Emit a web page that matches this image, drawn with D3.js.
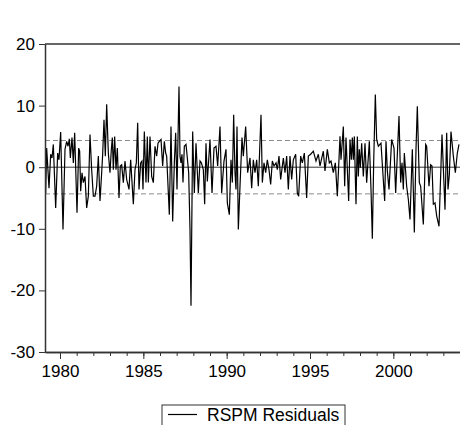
<!DOCTYPE html>
<html>
<head>
<meta charset="utf-8">
<script src="https://cdn.jsdelivr.net/npm/d3@7"></script>
<style>
  body { margin: 0; background: #fff; }
  svg { display: block; font-family: Arial, "Liberation Sans", sans-serif; }
</style>
</head>
<body>
<svg id="chart" width="460" height="425"></svg>
<script>
(function() {

  'use strict';

  var obsDates = [
    1979.10, 1979.14, 1979.20, 1979.34, 1979.44, 1979.52, 1979.60, 1979.74, 1979.86, 1979.94,
    1980.04, 1980.18, 1980.30, 1980.40, 1980.48, 1980.56, 1980.62, 1980.72, 1980.80, 1980.88,
    1981.02, 1981.12, 1981.18, 1981.24, 1981.32, 1981.40, 1981.50, 1981.60, 1981.70, 1981.80,
    1981.90, 1982.00, 1982.10, 1982.20, 1982.30, 1982.40, 1982.50, 1982.56, 1982.64, 1982.72,
    1982.80, 1982.90, 1983.00, 1983.08, 1983.14, 1983.20, 1983.28, 1983.36, 1983.44, 1983.54,
    1983.62, 1983.70, 1983.80, 1983.90, 1984.00, 1984.14, 1984.24, 1984.40, 1984.50, 1984.58,
    1984.66, 1984.74, 1984.84, 1984.92, 1984.98, 1985.06, 1985.16, 1985.24, 1985.30, 1985.40,
    1985.50, 1985.60, 1985.70, 1985.80, 1985.88, 1985.96, 1986.06, 1986.16, 1986.26, 1986.34,
    1986.40, 1986.56, 1986.66, 1986.76, 1986.86, 1986.94, 1987.02, 1987.14, 1987.20, 1987.26,
    1987.32, 1987.38, 1987.46, 1987.56, 1987.64, 1987.72, 1987.80, 1987.86, 1987.96, 1988.06,
    1988.16, 1988.30, 1988.40, 1988.48, 1988.60, 1988.68, 1988.76, 1988.84, 1989.00, 1989.12,
    1989.24, 1989.36, 1989.46, 1989.60, 1989.70, 1989.84, 1989.96, 1990.04, 1990.16, 1990.26,
    1990.34, 1990.42, 1990.50, 1990.56, 1990.62, 1990.70, 1990.80, 1990.92, 1991.00, 1991.14,
    1991.26, 1991.40, 1991.50, 1991.60, 1991.70, 1991.80, 1991.90, 1992.06, 1992.14, 1992.24,
    1992.34, 1992.44, 1992.54, 1992.64, 1992.74, 1992.84, 1992.96, 1993.04, 1993.14, 1993.24,
    1993.40, 1993.50, 1993.60, 1993.70, 1993.80, 1993.90, 1994.00, 1994.14, 1994.24, 1994.32,
    1994.44, 1994.54, 1994.66, 1994.80, 1994.90, 1995.04, 1995.20, 1995.36, 1995.50, 1995.60,
    1995.80, 1995.90, 1996.04, 1996.16, 1996.26, 1996.40, 1996.52, 1996.64, 1996.80, 1996.86,
    1997.00, 1997.08, 1997.16, 1997.32, 1997.40, 1997.48, 1997.54, 1997.60, 1997.66, 1997.76,
    1997.84, 1997.90, 1997.96, 1998.02, 1998.10, 1998.20, 1998.30, 1998.40, 1998.56, 1998.66,
    1998.74, 1998.82, 1998.92, 1999.00, 1999.10, 1999.26, 1999.36, 1999.48, 1999.56, 1999.64,
    1999.74, 1999.90, 2000.04, 2000.14, 2000.34, 2000.44, 2000.52, 2000.60, 2000.66, 2000.80,
    2000.90, 2001.00, 2001.14, 2001.26, 2001.36, 2001.44, 2001.56, 2001.64, 2001.80, 2001.94,
    2002.00, 2002.14, 2002.24, 2002.32, 2002.40, 2002.50, 2002.60, 2002.74, 2002.92, 2003.10,
    2003.20, 2003.28, 2003.36, 2003.46, 2003.60, 2003.72, 2003.84, 2003.94
  ];

  var residuals = [
    3.4, -4.2, 3.1, -3.4, 2.1, 1.5, 3.7, -6.6, 2.3, 1.2,
    5.7, -10.1, 2.9, 4.2, 3.4, 4.6, 1.5, 4.8, 0.7, 5.6,
    -7.4, 3.1, 2.6, -3.9, -0.9, -2.5, -1.5, -6.6, -4.7, 5.3,
    -0.4, -4.7, -4.7, -3.1, 1.8, -5.5, -0.9, 2.1, 7.7, 1.8,
    10.2, 2.3, -0.9, 2.9, 4.8, -0.4, 5.0, -0.4, 3.1, -5.0,
    0.2, 0.4, -2.5, 1.0, -2.0, -3.6, 1.2, -6.0, -0.4, 0.7,
    7.2, -3.6, 0.7, 1.0, -3.6, 5.8, -2.5, 5.0, -2.5, 5.0,
    -1.5, -2.5, 3.4, 1.8, 3.9, 4.2, 4.5, 0.2, 4.2, 2.3,
    1.8, -7.7, 6.6, -8.8, 0.7, 5.6, -3.6, 13.1, 1.8, 0.7,
    2.1, -2.5, 3.4, 3.7, 1.5, -0.9, -10.1, -22.5, 5.8, -4.2,
    3.9, -4.2, 1.0, 0.7, -0.4, -6.0, 3.9, -2.3, 4.5, -4.2,
    3.1, 3.4, 0.2, 6.6, -4.2, 1.0, 2.9, -5.8, -7.7, 1.2,
    -2.5, 8.5, -0.9, -3.6, 6.6, -10.1, -3.1, 4.8, 1.8, 6.6,
    -0.9, 1.5, -3.4, 1.2, -0.9, 1.2, -3.1, 8.5, -2.5, 0.7,
    -0.9, 1.2, -0.4, -2.8, 1.0, 0.2, 0.7, -0.4, 1.8, -2.0,
    1.5, -0.9, 1.8, -3.6, 1.8, -2.0, 1.2, 2.1, -4.2, -4.7,
    1.8, 0.7, 2.3, -5.0, 1.8, 2.1, 2.6, 1.0, 2.1, 0.2,
    2.6, -0.6, 2.9, 0.7, 1.0, -0.9, 0.7, -4.7, 5.0, 1.2,
    6.6, -3.1, 4.8, -5.5, 4.5, 1.2, 4.8, 1.2, 5.0, -6.0,
    5.0, -1.5, 2.9, -0.1, 3.9, -1.5, 3.9, -2.5, 4.2, -3.6,
    -11.6, 0.7, 11.8, 4.5, 3.4, 3.9, -0.4, -5.5, 4.2, -0.6,
    -3.6, 4.5, 3.1, -4.2, 8.3, -2.5, 0.7, -3.6, 2.3, -3.1,
    -5.2, -8.5, 2.9, -10.6, 2.9, 9.9, -2.5, -3.1, -9.3, 3.7,
    3.4, -3.1, 0.4, 0.2, -6.0, -5.8, -7.9, -9.6, 5.3, -6.9,
    5.6, -3.6, -1.2, 5.8, 1.8, -0.9, 2.3, 3.7
  ];

  // +/- one standard error band and axis ticks
  var bandLevel = 4.33;
  var yTicks = [-30, -20, -10, 0, 10, 20];
  var majorYears = [1980, 1985, 1990, 1995, 2000];
  var minorYears = d3.range(1980, 2005);
  var seriesName = 'RSPM Residuals';

  var svg = d3.select('#chart');

  var x = d3.scaleLinear().domain([1979.1, 2004.0]).range([45, 460]);
  var y = d3.scaleLinear().domain([-30, 20]).range([352, 44]);

  var axisColor = '#333';
  var plainNumber = function(d) { return String(d); };   // ASCII hyphen for negatives

  svg.append('clipPath').attr('id', 'clip')
    .append('rect')
    .attr('x', x.range()[0]).attr('y', y.range()[1])
    .attr('width', x.range()[1] - x.range()[0])
    .attr('height', y.range()[0] - y.range()[1]);

  var plot = svg.append('g').attr('clip-path', 'url(#clip)');

  // dashed band lines
  plot.selectAll('.band')
    .data([bandLevel, -bandLevel])
    .enter().append('line')
    .attr('class', 'band')
    .attr('x1', x.range()[0]).attr('x2', x.range()[1])
    .attr('y1', function(d) { return y(d); })
    .attr('y2', function(d) { return y(d); })
    .attr('stroke', '#8c8c8c')
    .attr('stroke-width', 1)
    .attr('stroke-dasharray', '5,3');

  // zero line
  plot.append('line')
    .attr('x1', x.range()[0]).attr('x2', x.range()[1])
    .attr('y1', y(0)).attr('y2', y(0))
    .attr('stroke', '#333')
    .attr('stroke-width', 1);

  var line = d3.line()
    .x(function(d, i) { return x(obsDates[i]); })
    .y(function(d) { return y(d); });

  plot.append('path')
    .datum(residuals)
    .attr('d', line)
    .attr('fill', 'none')
    .attr('stroke', '#000')
    .attr('stroke-width', 1.2)
    .attr('stroke-linejoin', 'miter');

  // top frame
  svg.append('line')
    .attr('x1', x.range()[0]).attr('x2', x.range()[1])
    .attr('y1', y.range()[1]).attr('y2', y.range()[1])
    .attr('stroke', axisColor)
    .attr('stroke-width', 1.5);

  // y axis
  var yAxis = svg.append('g')
    .attr('transform', 'translate(' + x.range()[0] + ',0)')
    .call(d3.axisLeft(y).tickValues(yTicks).tickSize(6).tickPadding(4)
      .tickFormat(plainNumber).tickSizeOuter(0));

  // x axis: minor then major ticks
  var xMinor = svg.append('g')
    .attr('transform', 'translate(0,' + y.range()[0] + ')')
    .call(d3.axisBottom(x).tickValues(minorYears).tickSize(4).tickFormat('').tickSizeOuter(0));

  var xMajor = svg.append('g')
    .attr('transform', 'translate(0,' + y.range()[0] + ')')
    .call(d3.axisBottom(x).tickValues(majorYears).tickSize(7).tickPadding(6)
      .tickFormat(plainNumber).tickSizeOuter(0));

  [yAxis, xMinor, xMajor].forEach(function(g) {
    g.selectAll('path.domain').attr('stroke', axisColor).attr('stroke-width', 1.5);
    g.selectAll('.tick line').attr('stroke', axisColor);
    g.selectAll('text')
      .attr('fill', '#000')
      .style('font-size', '17px')
      .style('font-family', 'Arial, "Liberation Sans", sans-serif');
  });

  // legend
  var legend = svg.append('g').attr('transform', 'translate(162,405)');
  legend.append('rect')
    .attr('x', 0).attr('y', 0)
    .attr('width', 183).attr('height', 40)
    .attr('fill', '#fff')
    .attr('stroke', axisColor)
    .attr('stroke-width', 1);
  legend.append('line')
    .attr('x1', 6).attr('x2', 35)
    .attr('y1', 9.5).attr('y2', 9.5)
    .attr('stroke', '#000')
    .attr('stroke-width', 1.2);
  legend.append('text')
    .attr('x', 45).attr('y', 15.5)
    .style('font-size', '17.5px')
    .attr('fill', '#000')
    .text(seriesName);

})();
</script>
</body>
</html>
